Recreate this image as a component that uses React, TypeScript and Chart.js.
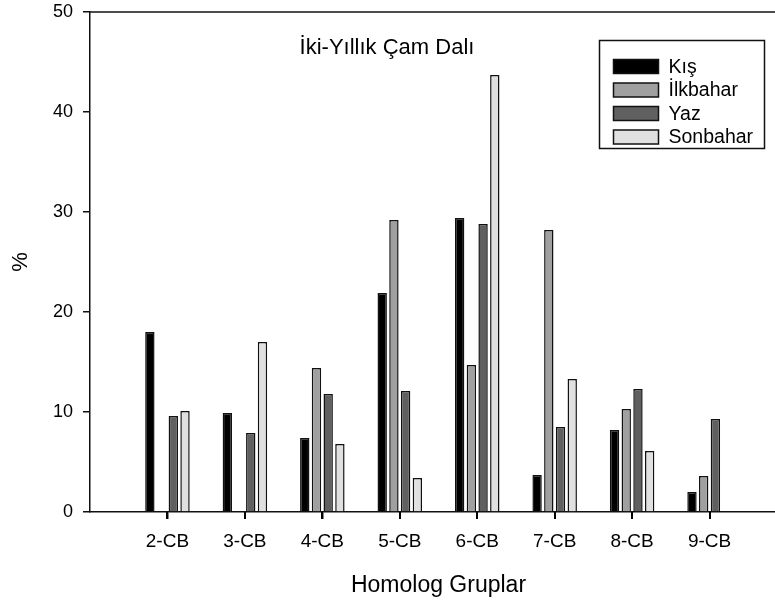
import React, { useEffect, useRef } from 'react';
import { Chart, registerables } from 'chart.js';

Chart.register(...registerables);

const FONT = '"Liberation Sans", Arial, sans-serif';

const categories = ['', '2-CB', '3-CB', '4-CB', '5-CB', '6-CB', '7-CB', '8-CB', '9-CB', ''];
const kis = [null, 18.0, 9.9, 7.4, 21.9, 29.4, 3.7, 8.2, 2.0, null];
const ilkbahar = [null, null, null, 14.4, 29.2, 14.7, 28.2, 10.3, 3.6, null];
const yaz = [null, 9.6, 7.9, 11.8, 12.1, 28.8, 8.5, 12.3, 9.3, null];
const sonbahar = [null, 10.1, 17.0, 6.8, 3.4, 43.7, 13.3, 6.1, null, null];

const seriesLabels = ['Kış', 'İlkbahar', 'Yaz', 'Sonbahar'];
const seriesColors = ['#000000', '#a0a0a0', '#606060', '#e0e0e0'];
const yTicks = [0, 10, 20, 30, 40, 50];

const chartTitle = 'İki-Yıllık Çam Dalı';
const xTitle = 'Homolog Gruplar';
const yTitle = '%';

const overlay = {
  id: 'overlay',
  afterDraw(chart: any) {
    const { ctx, chartArea: a } = chart;
    const xs = chart.scales.x;
    ctx.save();
    ctx.strokeStyle = '#111';
    ctx.lineWidth = 1.5;
    ctx.beginPath();
    ctx.moveTo(a.left, a.top);
    ctx.lineTo(a.right, a.top);
    ctx.stroke();

    // x tick marks at category centres
    ctx.strokeStyle = '#000';
    ctx.lineWidth = 2;
    for (let i = 0; i < categories.length; i++) {
      if (!categories[i]) continue;
      const px = Math.round(xs.getPixelForValue(i));
      ctx.beginPath();
      ctx.moveTo(px, a.bottom);
      ctx.lineTo(px, a.bottom + 7);
      ctx.stroke();
    }

    ctx.fillStyle = '#000';
    ctx.font = `22px ${FONT}`;
    ctx.textAlign = 'center';
    ctx.textBaseline = 'middle';
    ctx.fillText(chartTitle, a.left + 297, a.top + 36);

    const bx = a.left + 509.5;
    const by = a.top + 28.5;
    const bw = 165;
    const bh = 108;
    ctx.lineWidth = 1.5;
    ctx.strokeStyle = '#111';
    ctx.strokeRect(bx, by, bw, bh);
    ctx.font = `19.5px ${FONT}`;
    ctx.textAlign = 'left';
    chart.data.datasets.forEach((ds: any, i: number) => {
      const cy = by + 26 + i * 23.5;
      ctx.fillStyle = ds.backgroundColor;
      ctx.fillRect(bx + 14, cy - 7, 45, 14);
      ctx.strokeRect(bx + 14, cy - 7, 45, 14);
      ctx.fillStyle = '#000';
      ctx.fillText(ds.label, bx + 69, cy + 1);
    });
    ctx.restore();
  },
};

export default function App() {
  const ref = useRef<HTMLCanvasElement | null>(null);

  useEffect(() => {
    if (!ref.current) return;
    const series = [kis, ilkbahar, yaz, sonbahar];
    const chart = new Chart(ref.current, {
      type: 'bar',
      data: {
        labels: categories,
        datasets: series.map((d, i) => ({
          label: seriesLabels[i],
          data: d,
          backgroundColor: seriesColors[i],
          borderColor: '#111',
          borderWidth: 1.5,
          borderSkipped: 'start',
          categoryPercentage: 0.605,
          barPercentage: 0.8,
        })),
      },
      options: {
        responsive: false,
        animation: false,
        layout: { padding: { top: 12, right: 0, left: 0, bottom: 0 } },
        plugins: {
          legend: { display: false },
          tooltip: { enabled: false },
          title: { display: false },
        },
        scales: {
          x: {
            type: 'category',
            offset: false,
            afterBuildTicks: (s: any) => {
              s.ticks = s.ticks.filter((t: any) => categories[t.value] !== '');
            },
            grid: {
              offset: false,
              drawOnChartArea: false,
              drawTicks: true,
              tickLength: 7,
              lineWidth: 1.5,
              color: '#111',
              tickColor: '#111',
            },
            border: { display: true, color: '#111', width: 1.5 },
            ticks: {
              color: '#000',
              font: { family: FONT, size: 19 },
              padding: 11,
              autoSkip: false,
              maxRotation: 0,
              minRotation: 0,
            },
            title: {
              display: true,
              text: xTitle,
              color: '#000',
              font: { family: FONT, size: 23 },
              padding: { top: 4, bottom: 7 },
            },
            afterFit: (s: any) => {
              s.height = 94;
              s.paddingLeft = 0;
              s.paddingRight = 0;
            },
          },
          y: {
            min: 0,
            max: 50,
            afterBuildTicks: (s: any) => {
              s.ticks = yTicks.map((v) => ({ value: v }));
            },
            grid: {
              drawOnChartArea: false,
              drawTicks: true,
              tickLength: 7,
              lineWidth: 1.5,
              color: '#111',
            },
            border: { display: true, color: '#111', width: 1.5 },
            ticks: {
              color: '#000',
              font: { family: FONT, size: 18 },
              padding: 10,
            },
            title: {
              display: true,
              text: yTitle,
              color: '#000',
              font: { family: FONT, size: 22 },
              padding: { top: 8, bottom: 8 },
            },
            afterFit: (s: any) => {
              s.width = 90;
              s.paddingTop = 0;
              s.paddingBottom = 0;
            },
          },
        },
      },
      plugins: [overlay],
    });
    return () => chart.destroy();
  }, []);

  return (
    <div
      style={{
        position: 'fixed',
        left: 0,
        top: 0,
        width: 775,
        height: 606,
        overflow: 'hidden',
        background: '#fff',
      }}
    >
      <canvas ref={ref} width={787} height={606} style={{ display: 'block' }} />
    </div>
  );
}
